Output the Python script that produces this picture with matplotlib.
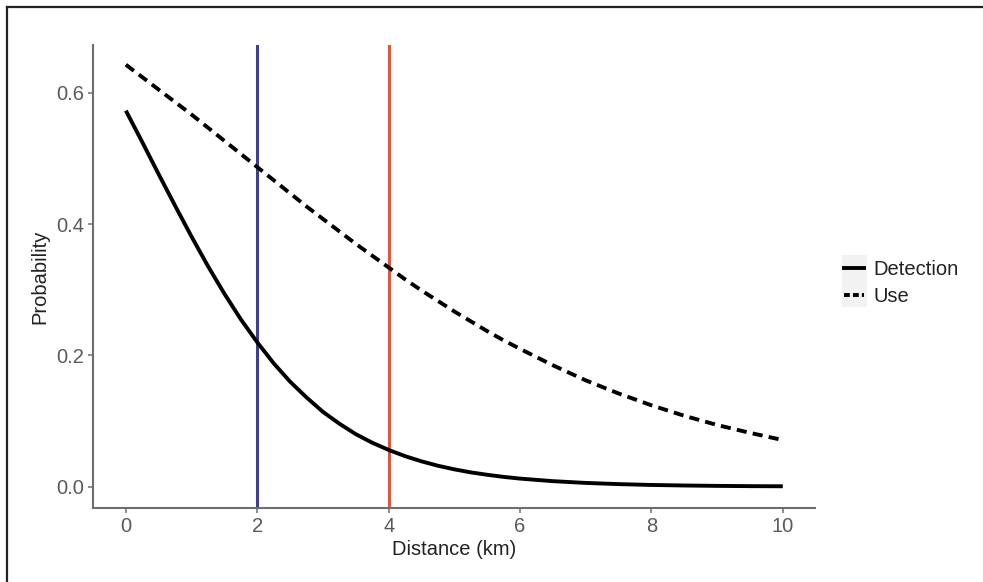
import matplotlib
matplotlib.use("Agg")
import matplotlib.pyplot as plt
from matplotlib.lines import Line2D
from matplotlib.patches import Rectangle

plt.rcParams['font.family'] = ['Liberation Sans', 'DejaVu Sans']

distance = [0, 0.25, 0.5, 0.75, 1, 1.25, 1.5, 1.75, 2, 2.25, 2.5, 2.75, 3, 3.25, 3.5, 3.75,
            4, 4.25, 4.5, 4.75, 5, 5.25, 5.5, 5.75, 6, 6.5, 7, 7.5, 8, 8.5, 9, 9.5, 10]
detection = [0.573, 0.525, 0.476, 0.428, 0.381, 0.336, 0.294, 0.255, 0.220, 0.188, 0.160,
             0.136, 0.114, 0.096, 0.080, 0.067, 0.056, 0.0465, 0.0386, 0.0319, 0.0264,
             0.0218, 0.0181, 0.0149, 0.0123, 0.0084, 0.0057, 0.0039, 0.0026, 0.0018,
             0.0012, 0.0008, 0.0006]
use = [0.643, 0.624, 0.605, 0.586, 0.567, 0.547, 0.527, 0.507, 0.487, 0.467, 0.447,
       0.427, 0.408, 0.389, 0.370, 0.352, 0.334, 0.316, 0.299, 0.283, 0.267,
       0.252, 0.237, 0.223, 0.210, 0.185, 0.162, 0.142, 0.124, 0.108, 0.094, 0.082, 0.071]
vlines = [2, 4]
vline_colors = ['#3d3d9b', '#f0512f']
series_labels = ['Detection', 'Use']
xticks = [0, 2, 4, 6, 8, 10]
yticks = [0.0, 0.2, 0.4, 0.6]

W, H = 983, 582
FS = 14.5
fig = plt.figure(figsize=(W / 100, H / 100), dpi=100)
fig.patch.set_facecolor('white')
ax = fig.add_axes([93 / W, 1 - 508 / H, (815 - 93) / W, (508 - 45) / H])

for xv, c in zip(vlines, vline_colors):
    ax.axvline(xv, color=c, lw=2.2, zorder=1)

ax.plot(distance, detection, color='black', lw=2.8, solid_capstyle='butt',
        solid_joinstyle='round', zorder=3)
ax.plot(distance, use, color='black', lw=2.8, dashes=(2.6, 1.6), zorder=3)

ax.set_xlim(-0.5, 10.49)
ax.set_ylim(-0.0325, 0.673)
ax.set_xticks(xticks)
ax.set_xticklabels([str(t) for t in xticks])
ax.set_yticks(yticks)
ax.set_yticklabels([f"{t:.1f}" for t in yticks])
for s in ['top', 'right']:
    ax.spines[s].set_visible(False)
for s in ['left', 'bottom']:
    ax.spines[s].set_color('#6e6e6e')
    ax.spines[s].set_linewidth(1.5)
ax.tick_params(axis='both', colors='#6e6e6e', length=3.5, width=1.1,
               labelsize=FS, labelcolor='#5a5a5a', pad=3)
ax.set_xlabel('Distance (km)', fontsize=FS, color='#222222', labelpad=3)
ax.set_ylabel('Probability', fontsize=FS, color='#222222', labelpad=5)

# legend key background
fig.patches.append(Rectangle((842 / W, 1 - 307 / H), 25 / W, 52 / H,
                             transform=fig.transFigure, facecolor='#f2f2f2',
                             edgecolor='none', zorder=0))
handles = [Line2D([], [], color='black', lw=2.8),
           Line2D([], [], color='black', lw=2.8, dashes=(1.5, 0.8))]
leg = fig.legend(handles, series_labels, loc='center left',
                 bbox_to_anchor=(844 / W, 1 - 283 / H), frameon=False,
                 fontsize=FS, handlelength=1.0, handletextpad=0.45,
                 labelspacing=0.42, borderaxespad=0, borderpad=0)
for t in leg.get_texts():
    t.set_color('#222222')

# outer frame (top and left edges)
fig.add_artist(Line2D([7 / W, 1], [1 - 7 / H, 1 - 7 / H], transform=fig.transFigure,
                      color='#222222', lw=1.6))
fig.add_artist(Line2D([7 / W, 7 / W], [0, 1 - 7 / H], transform=fig.transFigure,
                      color='#222222', lw=1.6))

fig.savefig('out.png', dpi=100, facecolor='white')
